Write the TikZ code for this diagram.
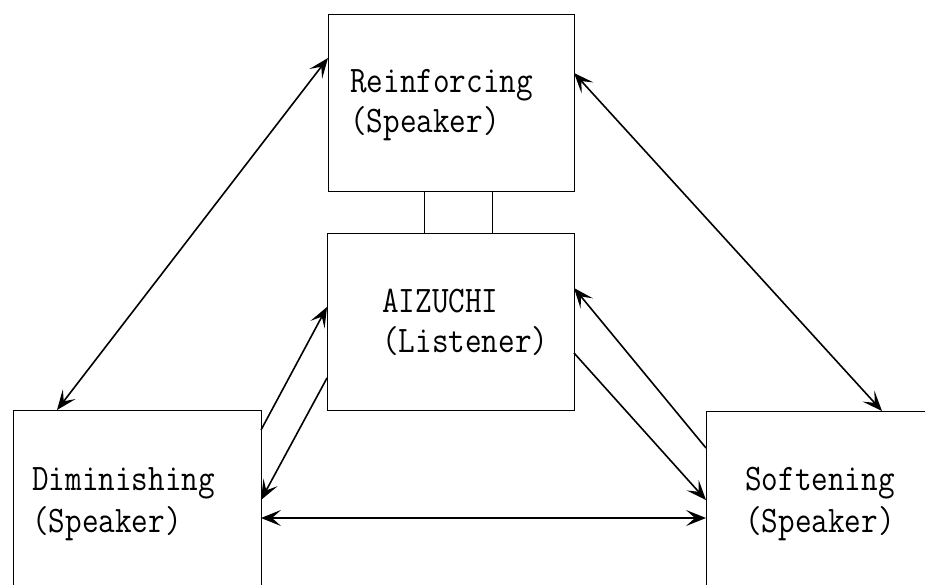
\documentclass[tikz,border=0pt]{standalone}
\usepackage{fontspec}
\newfontfamily\diagfont{Latin Modern Mono}[FakeStretch=0.86]
\usetikzlibrary{arrows.meta}
\tikzset{
  box/.style={draw, line width=0.9pt, rectangle, inner sep=0pt, outer sep=0pt, anchor=north west},
  lbl/.style={anchor=base west, inner sep=0pt, font=\diagfont\fontsize{37.5}{40}\selectfont},
  con/.style={line width=1.6pt},
  both/.style={con, arrows={Stealth[length=20pt,width=16pt,inset=9pt]-Stealth[length=20pt,width=16pt,inset=9pt]}},
  one/.style={con, arrows={-Stealth[length=20pt,width=16pt,inset=9pt]}},
  bar/.style={line width=0.9pt}}
\begin{document}
\begin{tikzpicture}[x=1pt,y=-1pt]
\useasboundingbox (0,0) rectangle (925,585);
\clip (0,0) rectangle (925,585);
% boxes
\node[box, minimum width=246pt, minimum height=177pt] (rein) at (328,14) {};
\node[box, minimum width=247pt, minimum height=177pt] (aiz) at (327,233) {};
\node[box, minimum width=248pt, minimum height=200pt] (dim) at (13,410) {};
\node[box, minimum width=250pt, minimum height=200pt] (soft) at (706,411) {};
% texts
\node[lbl] (reinA) at (350,93) {Reinforcing};
\node[lbl] (reinB) at (350,133) {(Speaker)};
\node[lbl] (aizA) at (382,312) {AIZUCHI};
\node[lbl] (aizB) at (382,352) {(Listener)};
\node[lbl] (dimA) at (32,490) {Diminishing};
\node[lbl] (dimB) at (32,532) {(Speaker)};
\node[lbl] (softA) at (745,490) {Softening};
\node[lbl] (softB) at (745,532) {(Speaker)};
% bars between Reinforcing and AIZUCHI
\draw[bar] ([xshift=96pt]rein.south west) -- ([xshift=96pt]rein.south west |- aiz.north);
\draw[bar] ([xshift=164pt]rein.south west) -- ([xshift=164pt]rein.south west |- aiz.north);
% connectors
\draw[both] ([yshift=-44pt]rein.north west) -- ([xshift=44pt]dim.north west);
\draw[both] ([yshift=-59pt]rein.north east) -- ([xshift=176pt]soft.north west);
\draw[one] ([yshift=-20pt]dim.north east) -- ([yshift=-74pt]aiz.north west);
\draw[one] ([yshift=-145pt]aiz.north west) -- ([yshift=-90pt]dim.north east);
\draw[one] ([yshift=-37pt]soft.north west) -- ([yshift=-55pt]aiz.north east);
\draw[one] ([yshift=-120pt]aiz.north east) -- ([yshift=-89pt]soft.north west);
\draw[both] ([yshift=-108pt]dim.north east) -- ([yshift=-108pt]dim.north east -| soft.west);
\end{tikzpicture}
\end{document}
